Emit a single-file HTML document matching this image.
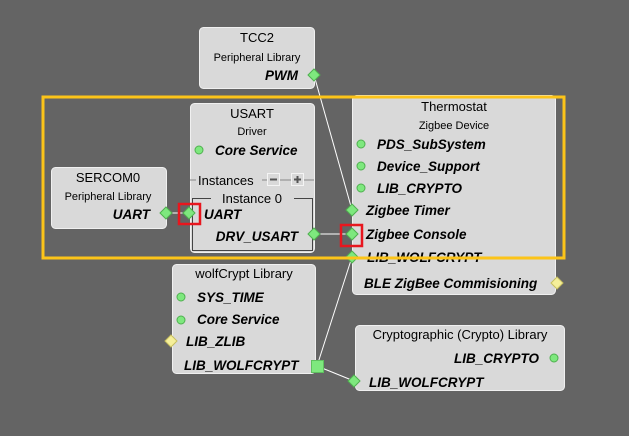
<!DOCTYPE html>
<html><head><meta charset="utf-8"><style>
html,body{margin:0;padding:0;background:#646464;}
svg{display:block;}
text{font-family:"Liberation Sans","DejaVu Sans",sans-serif;fill:#000;}
.t{font-size:13px;}
.s{font-size:11px;}
.b{font-size:13.5px;font-weight:bold;font-style:italic;}
.box{fill:#d9d9d9;stroke:#f0f0f0;stroke-width:1;}
.g{fill:#7ee87e;stroke:#4fb04f;stroke-width:1;}
.y{fill:#f5ef9a;stroke:#c8c060;stroke-width:1;}
</style></head><body>
<svg width="629" height="436" viewBox="0 0 629 436" xmlns="http://www.w3.org/2000/svg">
<rect width="629" height="436" fill="#646464"/>
<!-- TCC2 -->
<rect class="box" x="199.5" y="27.5" width="115" height="61" rx="4"/>
<text class="t" x="257" y="42" text-anchor="middle">TCC2</text>
<text class="s" x="257" y="61" text-anchor="middle">Peripheral Library</text>
<text class="b" x="298" y="80" text-anchor="end">PWM</text>
<!-- USART -->
<rect class="box" x="190.5" y="103.5" width="124" height="149" rx="4"/>
<text class="t" x="252" y="118" text-anchor="middle">USART</text>
<text class="s" x="252" y="135" text-anchor="middle">Driver</text>
<text class="b" x="215" y="155">Core Service</text>
<line x1="190" y1="180" x2="196" y2="180" stroke="#888"/>
<text class="t" x="198" y="185">Instances</text>
<line x1="262" y1="180" x2="314" y2="180" stroke="#888"/>
<rect x="267.5" y="173.5" width="12" height="12" fill="#d9d9d9" stroke="#f4f4f4"/>
<line x1="270" y1="179.5" x2="277" y2="179.5" stroke="#555" stroke-width="2"/>
<rect x="291.5" y="173.5" width="12" height="12" fill="#d9d9d9" stroke="#f4f4f4"/>
<line x1="294" y1="179.5" x2="301" y2="179.5" stroke="#555" stroke-width="2"/>
<line x1="297.5" y1="176" x2="297.5" y2="183" stroke="#555" stroke-width="2"/>
<path d="M211 198.5 H192.5 V250.5 H312.5 V198.5 H294" fill="none" stroke="#444" stroke-width="1"/>
<text class="t" x="252" y="203" text-anchor="middle">Instance 0</text>
<text class="b" x="204" y="219">UART</text>
<text class="b" x="298" y="241" text-anchor="end">DRV_USART</text>
<!-- SERCOM0 -->
<rect class="box" x="51.5" y="167.5" width="115" height="61" rx="4"/>
<text class="t" x="108" y="182" text-anchor="middle">SERCOM0</text>
<text class="s" x="108" y="200" text-anchor="middle">Peripheral Library</text>
<text class="b" x="150" y="219" text-anchor="end">UART</text>
<!-- Thermostat -->
<rect class="box" x="352.5" y="95.5" width="203" height="199" rx="4"/>
<text class="t" x="454" y="111" text-anchor="middle">Thermostat</text>
<text class="s" x="454" y="129" text-anchor="middle">Zigbee Device</text>
<text class="b" x="377" y="149">PDS_SubSystem</text>
<text class="b" x="377" y="171">Device_Support</text>
<text class="b" x="377" y="193">LIB_CRYPTO</text>
<text class="b" x="366" y="215">Zigbee Timer</text>
<text class="b" x="366" y="239">Zigbee Console</text>
<text class="b" x="367" y="262">LIB_WOLFCRYPT</text>
<text class="b" x="364" y="288">BLE ZigBee Commisioning</text>
<!-- wolfCrypt -->
<rect class="box" x="172.5" y="264.5" width="143" height="109" rx="4"/>
<text class="t" x="244" y="278" text-anchor="middle">wolfCrypt Library</text>
<text class="b" x="197" y="302">SYS_TIME</text>
<text class="b" x="197" y="324">Core Service</text>
<text class="b" x="186" y="346">LIB_ZLIB</text>
<text class="b" x="184" y="370">LIB_WOLFCRYPT</text>
<!-- Crypto -->
<rect class="box" x="355.5" y="325.5" width="209" height="65" rx="4"/>
<text class="t" x="460" y="339" text-anchor="middle">Cryptographic (Crypto) Library</text>
<text class="b" x="539" y="363" text-anchor="end">LIB_CRYPTO</text>
<text class="b" x="369" y="387">LIB_WOLFCRYPT</text>
<!-- connectors -->
<g stroke="#fff" stroke-width="1" fill="none">
<line x1="314" y1="75" x2="352" y2="210"/>
<line x1="166" y1="213" x2="189" y2="213"/>
<line x1="314" y1="234" x2="352" y2="234"/>
<line x1="352" y1="257" x2="317" y2="366"/>
<line x1="317" y1="366" x2="354" y2="381"/>
</g>
<circle class="g" cx="199" cy="150" r="4"/>
<circle class="g" cx="361" cy="144" r="4"/>
<circle class="g" cx="361" cy="166" r="4"/>
<circle class="g" cx="361" cy="188" r="4"/>
<circle class="g" cx="181" cy="297" r="4"/>
<circle class="g" cx="181" cy="320" r="4"/>
<circle class="g" cx="554" cy="358" r="4"/>
<g>
<path class="g" d="M314 69 L320 75 L314 81 L308 75Z"/>
<path class="g" d="M352 204 L358 210 L352 216 L346 210Z"/>
<path class="g" d="M352 228 L358 234 L352 240 L346 234Z"/>
<path class="g" d="M352 251 L358 257 L352 263 L346 257Z"/>
<path class="y" d="M557 277 L563 283 L557 289 L551 283Z"/>
<path class="g" d="M166 207 L172 213 L166 219 L160 213Z"/>
<path class="g" d="M189 207 L195 213 L189 219 L183 213Z"/>
<path class="g" d="M314 228 L320 234 L314 240 L308 234Z"/>
<path class="y" d="M171 335 L177 341 L171 347 L165 341Z"/>
<path class="g" d="M354 375 L360 381 L354 387 L348 381Z"/>
<rect x="311.5" y="360.5" width="12" height="12" fill="#7ee87e" stroke="#5fc05f"/>
</g>
<rect x="43" y="97" width="521" height="161" fill="none" stroke="#fcc419" stroke-width="3"/>
<rect x="179" y="204" width="21" height="20" fill="none" stroke="#e8161e" stroke-width="2.5"/>
<rect x="341" y="225" width="21" height="21" fill="none" stroke="#e8161e" stroke-width="2.5"/>
</svg>
</body></html>
